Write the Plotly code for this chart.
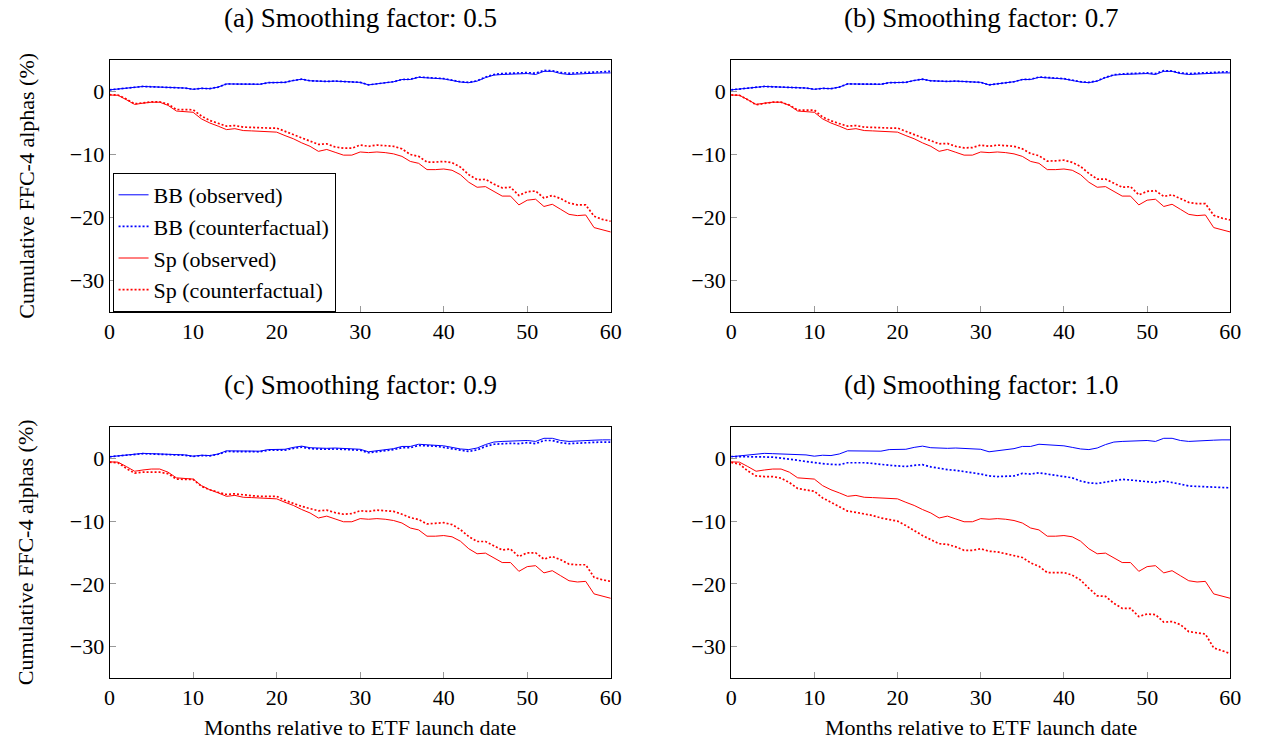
import plotly.graph_objects as go

months = list(range(61))

bb_obs = [0.26, 0.4, 0.55, 0.65, 0.8, 0.75, 0.7, 0.65, 0.55, 0.55, 0.35, 0.5, 0.45, 0.7, 1.2, 1.2, 1.2, 1.15, 1.15, 1.4,
          1.4, 1.45, 1.75, 1.95, 1.7, 1.6, 1.6, 1.65, 1.55, 1.5, 1.45, 1.05, 1.2, 1.3, 1.55, 1.9, 1.9, 2.25, 2.2, 2.15,
          2.0, 1.75, 1.5, 1.4, 1.65, 2.2, 2.6, 2.7, 2.75, 2.7, 2.85, 2.7, 3.2, 3.2, 2.85, 2.7, 2.8, 2.85, 2.9, 2.95, 2.95]

sp_obs = [-0.56, -0.6, -1.3, -2.05, -1.85, -1.7, -1.7, -2.2, -3.1, -3.2, -3.3, -4.35, -5.0, -5.5, -6.05, -5.9, -6.2,
          -6.25, -6.35, -6.4, -6.45, -7.0, -7.5, -8.15, -8.7, -9.5, -9.2, -9.65, -10.1, -10.1, -9.6, -9.7, -9.6, -9.7,
          -9.9, -10.3, -11.1, -11.4, -12.4, -12.4, -12.3, -12.5, -13.2, -14.4, -15.2, -15.1, -15.9, -16.6, -16.6, -18.0,
          -17.25, -17.1, -18.25, -17.9, -18.7, -19.5, -19.7, -19.6, -21.6, -22.0, -22.3]

bb_cf_a = [0.26, 0.4, 0.55, 0.65, 0.8, 0.75, 0.7, 0.65, 0.55, 0.55, 0.35, 0.5, 0.45, 0.7, 1.2, 1.2, 1.2, 1.15, 1.15, 1.4,
           1.4, 1.45, 1.75, 1.95, 1.7, 1.6, 1.6, 1.65, 1.55, 1.5, 1.45, 1.05, 1.2, 1.3, 1.55, 1.9, 1.95, 2.3, 2.25, 2.2,
           2.05, 1.8, 1.55, 1.45, 1.7, 2.3, 2.7, 2.85, 2.9, 2.85, 3.0, 2.9, 3.35, 3.3, 3.0, 2.9, 2.95, 3.0, 3.1, 3.15, 3.2]

bb_cf_b = [0.26, 0.4, 0.55, 0.65, 0.8, 0.75, 0.7, 0.65, 0.55, 0.55, 0.35, 0.5, 0.45, 0.7, 1.2, 1.2, 1.2, 1.15, 1.15, 1.4,
           1.4, 1.45, 1.75, 1.95, 1.7, 1.6, 1.6, 1.65, 1.55, 1.5, 1.45, 1.05, 1.2, 1.3, 1.55, 1.9, 1.95, 2.3, 2.25, 2.2,
           2.05, 1.8, 1.55, 1.45, 1.7, 2.25, 2.65, 2.8, 2.85, 2.8, 2.95, 2.85, 3.3, 3.25, 2.95, 2.85, 2.9, 2.95, 3.05, 3.1, 3.15]

bb_cf_c = [0.26, 0.4, 0.55, 0.6, 0.75, 0.7, 0.65, 0.6, 0.5, 0.5, 0.3, 0.45, 0.4, 0.65, 1.1, 1.1, 1.1, 1.05, 1.05, 1.3,
           1.3, 1.3, 1.6, 1.8, 1.55, 1.45, 1.45, 1.5, 1.4, 1.35, 1.3, 0.9, 1.05, 1.15, 1.4, 1.7, 1.7, 2.05, 2.0, 1.95,
           1.75, 1.5, 1.25, 1.1, 1.35, 1.9, 2.25, 2.35, 2.4, 2.35, 2.5, 2.35, 2.85, 2.85, 2.5, 2.35, 2.45, 2.5, 2.55, 2.6, 2.6]

bb_cf_d = [0.3, 0.3, 0.3, 0.3, 0.3, 0.2, 0.05, -0.15, -0.35, -0.55, -0.75, -0.85, -0.95, -1.0, -0.7, -0.65, -0.7, -0.8,
           -1.0, -1.1, -1.2, -1.3, -1.1, -1.0, -1.35, -1.6, -1.8, -1.9, -2.15, -2.3, -2.5, -2.8, -2.9, -2.9, -2.8, -2.4,
           -2.5, -2.3, -2.5, -2.6, -2.8, -3.1, -3.6, -3.9, -4.0, -3.75, -3.5, -3.35, -3.45, -3.6, -3.75, -3.85, -3.6,
           -3.8, -4.1, -4.4, -4.45, -4.5, -4.5, -4.6, -4.7]

sp_cf_a = [-0.5, -0.55, -1.2, -1.95, -1.8, -1.65, -1.65, -2.0, -2.85, -2.85, -2.9, -3.9, -4.6, -5.05, -5.5, -5.4, -5.65,
           -5.7, -5.8, -5.8, -5.8, -6.3, -6.8, -7.35, -7.8, -8.4, -8.3, -8.8, -9.0, -9.0, -8.5, -8.7, -8.5, -8.6, -8.7,
           -9.1, -10.0, -10.3, -11.2, -11.2, -11.1, -11.3, -12.0, -13.2, -14.0, -13.95, -14.7, -15.3, -15.2, -16.5,
           -15.9, -15.8, -16.9, -16.5, -17.0, -17.7, -18.0, -18.0, -19.8, -20.3, -20.6]

sp_cf_b = [-0.55, -0.6, -1.3, -2.1, -1.9, -1.7, -1.7, -2.15, -2.95, -2.95, -2.95, -4.05, -4.65, -5.1, -5.5, -5.4, -5.65,
           -5.7, -5.8, -5.8, -5.8, -6.35, -6.9, -7.35, -7.8, -8.3, -8.25, -8.7, -8.95, -8.9, -8.5, -8.7, -8.5, -8.55,
           -8.7, -9.1, -9.85, -10.2, -11.05, -11.0, -10.9, -11.25, -11.9, -13.0, -13.9, -13.9, -14.6, -15.2, -15.1,
           -16.4, -15.85, -15.75, -16.65, -16.4, -17.0, -17.6, -17.8, -17.8, -19.65, -20.1, -20.4]

sp_cf_c = [-0.6, -0.7, -1.6, -2.35, -2.2, -2.15, -2.2, -2.45, -3.3, -3.35, -3.35, -4.45, -5.0, -5.4, -5.75, -5.65, -5.85,
           -5.95, -6.05, -6.05, -6.05, -6.7, -7.2, -7.65, -8.0, -8.35, -8.25, -8.65, -8.9, -8.8, -8.35, -8.45, -8.25,
           -8.35, -8.45, -8.9, -9.45, -9.75, -10.45, -10.35, -10.25, -10.55, -11.35, -12.45, -13.25, -13.25, -13.95,
           -14.6, -14.45, -15.65, -15.05, -15.05, -16.05, -15.65, -16.15, -16.85, -16.95, -16.95, -18.95, -19.35, -19.6]

sp_cf_d = [-0.65, -0.9, -2.0, -2.8, -2.9, -2.9, -3.15, -3.85, -4.8, -5.05, -5.25, -6.3, -7.0, -7.8, -8.4, -8.6, -8.85,
           -9.1, -9.5, -9.7, -10.0, -10.7, -11.5, -12.3, -12.95, -13.6, -13.7, -14.1, -14.65, -14.65, -14.4, -14.8,
           -14.9, -15.2, -15.4, -15.8, -16.65, -17.2, -18.2, -18.2, -18.2, -18.6, -19.4, -20.7, -21.9, -22.0, -23.1,
           -23.9, -23.9, -25.2, -24.8, -24.9, -26.1, -26.0, -26.5, -27.6, -27.85, -28.0, -30.2, -30.7, -31.1]

panel_titles = ["(a) Smoothing factor: 0.5", "(b) Smoothing factor: 0.7",
                "(c) Smoothing factor: 0.9", "(d) Smoothing factor: 1.0"]
legend_names = ["BB (observed)", "BB (counterfactual)", "Sp (observed)", "Sp (counterfactual)"]
x_ticks = [0, 10, 20, 30, 40, 50, 60]
y_ticks = [-30, -20, -10, 0]
y_title = "Cumulative FFC-4 alphas (%)"
x_title = "Months relative to ETF launch date"

bb_cf = [bb_cf_a, bb_cf_b, bb_cf_c, bb_cf_d]
sp_cf = [sp_cf_a, sp_cf_b, sp_cf_c, sp_cf_d]

W, H = 1266, 742
FONT = "Liberation Serif, serif"
FS = 22
BLUE = "#0000ff"
RED = "#ff0000"
DOT = "2px,2px"

# pixel boxes (left, right, top, bottom)
boxes = [(105, 613, 60, 312), (735, 1241, 60, 312), (105, 613, 427, 678), (735, 1241, 427, 678)]

fig = go.Figure()
for i in range(4):
    sfx = "" if i == 0 else str(i + 1)
    xa, ya = "x" + sfx, "y" + sfx
    show = i == 0
    series = [(bb_obs, BLUE, "solid", 1.0), (bb_cf[i], BLUE, DOT, 1.7),
              (sp_obs, RED, "solid", 1.0), (sp_cf[i], RED, DOT, 1.7)]
    for k, (vals, col, dash, w) in enumerate(series):
        fig.add_trace(go.Scatter(x=months, y=vals, mode="lines", name=legend_names[k],
                                 line=dict(color=col, dash=dash, width=w),
                                 xaxis=xa, yaxis=ya, showlegend=show, legendgroup=legend_names[k]))

layout = dict(width=W, height=H, margin=dict(l=0, r=0, t=0, b=0),
              paper_bgcolor="white", plot_bgcolor="white",
              font=dict(family=FONT, size=FS, color="black"))
annotations = []
for i, (l, r, t, b) in enumerate(boxes):
    sfx = "" if i == 0 else str(i + 1)
    axc = dict(showgrid=False, zeroline=False, showline=True, mirror=True, linecolor="black", linewidth=1,
               ticks="inside", ticklen=6, tickcolor="#999999", tickwidth=1,
               tickfont=dict(family=FONT, size=FS, color="black"))
    layout["xaxis" + sfx] = dict(axc, domain=[l / W, r / W], range=[0, 60], tickvals=x_ticks,
                                 anchor="y" + sfx)
    layout["yaxis" + sfx] = dict(axc, domain=[1 - b / H, 1 - t / H], range=[-35, 5], tickvals=y_ticks,
                                 anchor="x" + sfx)
    annotations.append(dict(text=panel_titles[i], x=(l + r) / 2 / W, y=1 - (t - 42) / H,
                            xref="paper", yref="paper", showarrow=False, font=dict(family=FONT, size=27),
                            xanchor="center", yanchor="middle"))
    if i in (0, 2):
        annotations.append(dict(text=y_title, x=20 / W, y=1 - ((t + b) / 2) / H, xref="paper", yref="paper",
                                showarrow=False, textangle=-90, font=dict(family=FONT, size=FS),
                                xanchor="center", yanchor="middle"))
    if i in (2, 3):
        annotations.append(dict(text=x_title, x=(l + r) / 2 / W, y=1 - 727 / H, xref="paper", yref="paper",
                                showarrow=False, font=dict(family=FONT, size=FS),
                                xanchor="center", yanchor="middle"))
layout["annotations"] = annotations
layout["legend"] = dict(x=108 / W, y=1 - 173 / H, xanchor="left", yanchor="top", bordercolor="black",
                        borderwidth=1, bgcolor="white", font=dict(family=FONT, size=FS),
                        tracegroupgap=0, itemwidth=30)
fig.update_layout(**layout)
fig.write_html("out.html", config={"displayModeBar": False},
               post_script="document.body.style.margin='0px';")
